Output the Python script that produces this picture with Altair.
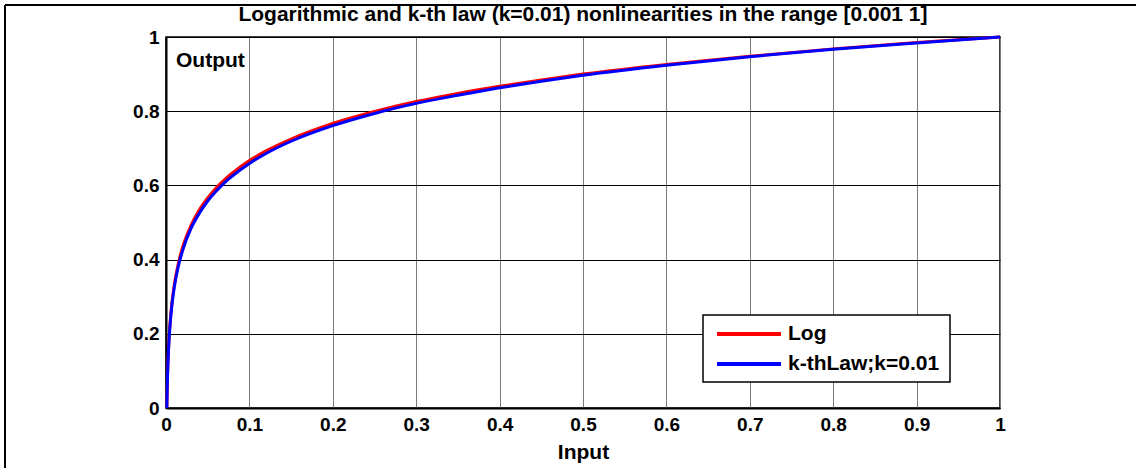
import altair as alt
import pandas as pd

# ---- data ----
x_input = [0.001, 0.0015, 0.002, 0.003, 0.005, 0.0075, 0.01, 0.015, 0.02, 0.03,
           0.04, 0.05, 0.06, 0.07, 0.08, 0.1, 0.12, 0.15, 0.2, 0.25, 0.3, 0.35,
           0.4, 0.45, 0.5, 0.6, 0.7, 0.8, 0.9, 1.0]
log_out = [0.0, 0.059, 0.100, 0.159, 0.233, 0.292, 0.333, 0.392, 0.434, 0.492,
           0.534, 0.566, 0.593, 0.615, 0.634, 0.667, 0.693, 0.725, 0.767, 0.799,
           0.826, 0.848, 0.867, 0.884, 0.900, 0.926, 0.948, 0.968, 0.985, 1.0]
kth_out = [0.0, 0.057, 0.097, 0.155, 0.227, 0.285, 0.326, 0.384, 0.425, 0.484,
           0.525, 0.558, 0.584, 0.607, 0.626, 0.659, 0.686, 0.719, 0.761, 0.794,
           0.821, 0.843, 0.863, 0.881, 0.897, 0.924, 0.947, 0.967, 0.984, 1.0]
series_names = ["Log", "k-thLaw;k=0.01"]
series_colors = ["#ff0000", "#0000ff"]
x_ticks = [0, 0.1, 0.2, 0.3, 0.4, 0.5, 0.6, 0.7, 0.8, 0.9, 1.0]
y_ticks = [0, 0.2, 0.4, 0.6, 0.8, 1.0]
title_text = "Logarithmic and k-th law (k=0.01) nonlinearities in the range [0.001 1]"

FONT = "Liberation Sans"
W, H = 834, 371
TICK_FS = 19
TEXT_FS = 21

rows = []
for name, vals in zip(series_names, [log_out, kth_out]):
    for xv, yv in zip(x_input, vals):
        rows.append({"Input": xv, "Output": yv, "series": name})
df = pd.DataFrame(rows)

xscale = alt.Scale(domain=[0, 1], nice=False, zero=False)
yscale = alt.Scale(domain=[0, 1], nice=False)

xaxis = alt.Axis(values=x_ticks, format="~g", title="Input", grid=True,
                 gridColor="#7a7a7a", gridWidth=1, ticks=False,
                 domainColor="black", domainWidth=2,
                 labelFont=FONT, labelFontSize=TICK_FS, labelFontWeight="bold",
                 labelColor="black", labelPadding=7, labelFlush=False,
                 titleFont=FONT, titleFontSize=TEXT_FS, titleFontWeight="bold",
                 titleColor="black", titlePadding=7)
yaxis = alt.Axis(values=y_ticks, format="~g", title=None, grid=True,
                 gridColor="black", gridWidth=1, ticks=False,
                 domainColor="black", domainWidth=2,
                 labelFont=FONT, labelFontSize=TICK_FS, labelFontWeight="bold",
                 labelColor="black", labelPadding=7, labelFlush=False)

base = alt.Chart(df)
red = base.transform_filter(alt.datum.series == series_names[0]).mark_line(
    color=series_colors[0], strokeWidth=3, interpolate="monotone"
).encode(x=alt.X("Input:Q", scale=xscale, axis=xaxis),
         y=alt.Y("Output:Q", scale=yscale, axis=yaxis))
blue = base.transform_filter(alt.datum.series == series_names[1]).mark_line(
    color=series_colors[1], strokeWidth=3, interpolate="monotone"
).encode(x=alt.X("Input:Q", scale=xscale), y=alt.Y("Output:Q", scale=yscale))

one = alt.Data(values=[{"a": 1}])

ylabel = alt.Chart(one).mark_text(
    text="Output", font=FONT, fontSize=TEXT_FS, fontWeight="bold", color="black",
    align="left", baseline="middle"
).encode(x=alt.value(10), y=alt.value(24))

legend_box = alt.Chart(one).mark_rect(
    fill="white", stroke="black", strokeWidth=1.5
).encode(x=alt.value(537), x2=alt.value(784), y=alt.value(278), y2=alt.value(345))

legend_layers = []
for i, (name, col) in enumerate(zip(series_names, series_colors)):
    yy = 297 + 30 * i
    legend_layers.append(alt.Chart(one).mark_rule(color=col, strokeWidth=4).encode(
        x=alt.value(551), x2=alt.value(615), y=alt.value(yy)))
    legend_layers.append(alt.Chart(one).mark_text(
        text=name, font=FONT, fontSize=TEXT_FS, fontWeight="bold", color="black",
        align="left", baseline="middle").encode(x=alt.value(622), y=alt.value(yy)))

frame_v = alt.Chart(one).mark_rule(color="black", strokeWidth=2).encode(
    x=alt.value(-161), y=alt.value(-32), y2=alt.value(440))
frame_h = alt.Chart(one).mark_rule(color="black", strokeWidth=2).encode(
    x=alt.value(-161), x2=alt.value(980), y=alt.value(-32))

chart = alt.layer(red, blue, ylabel, legend_box, *legend_layers, frame_v, frame_h).properties(
    width=W, height=H,
    title=alt.TitleParams(title_text, font=FONT, fontSize=TEXT_FS, fontWeight="bold",
                          color="black", anchor="middle", offset=-21),
    autosize=alt.AutoSizeParams(type="none"),
    padding={"left": 166, "top": 37, "right": 136, "bottom": 60},
    background="white",
).configure_view(stroke="black", strokeWidth=1.5)

chart.save("out.html", embed_options={"renderer": "svg", "actions": False})
